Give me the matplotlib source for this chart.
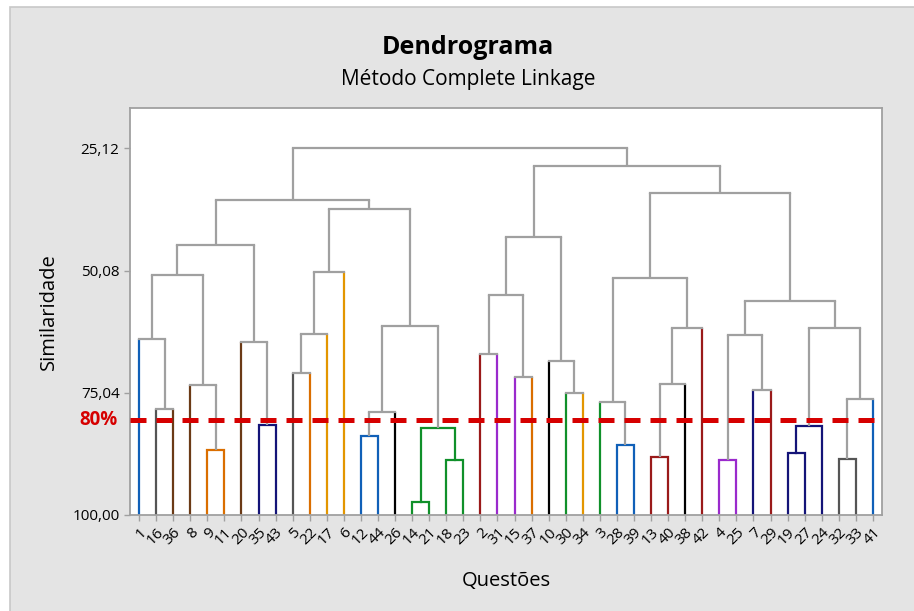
import matplotlib
matplotlib.use("Agg")
import matplotlib.pyplot as plt
from matplotlib.patches import Rectangle

plt.rcParams["font.family"] = ["Open Sans", "DejaVu Sans"]

# Leaf order along the x axis (question numbers)
leaves = [1, 16, 36, 8, 9, 11, 20, 35, 43, 5, 22, 17, 6, 12, 44, 26, 14, 21, 18, 23,
          2, 31, 15, 37, 10, 30, 34, 3, 28, 39, 13, 40, 38, 42, 4, 25, 7, 29, 19, 27,
          24, 32, 33, 41]

# Merges: (name, left child, right child, similarity). ints = leaves, str = earlier merges
merges = [
    ("m0", 16, 36, 78.4),
    ("m1", 1, "m0", 64.0),
    ("m2", 9, 11, 86.8),
    ("m3", 8, "m2", 73.4),
    ("m4", "m1", "m3", 50.9),
    ("m5", 35, 43, 81.6),
    ("m6", 20, "m5", 64.7),
    ("m7", "m4", "m6", 44.8),
    ("m8", 5, 22, 71.0),
    ("m9", "m8", 17, 63.0),
    ("m10", "m9", 6, 50.3),
    ("m11", 12, 44, 83.8),
    ("m12", "m11", 26, 78.9),
    ("m13", 14, 21, 97.3),
    ("m14", 18, 23, 88.8),
    ("m15", "m13", "m14", 82.2),
    ("m16", "m12", "m15", 61.3),
    ("m17", "m10", "m16", 37.4),
    ("m18", "m7", "m17", 35.7),
    ("m19", 2, 31, 67.2),
    ("m20", 15, 37, 71.9),
    ("m21", "m19", "m20", 55.1),
    ("m22", 30, 34, 75.1),
    ("m23", 10, "m22", 68.5),
    ("m24", "m21", "m23", 43.2),
    ("m25", 28, 39, 85.7),
    ("m26", 3, "m25", 76.9),
    ("m27", 13, 40, 88.1),
    ("m28", "m27", 38, 73.2),
    ("m29", "m28", 42, 61.8),
    ("m30", "m26", "m29", 51.6),
    ("m31", 4, 25, 88.8),
    ("m32", 7, 29, 74.5),
    ("m33", "m31", "m32", 63.3),
    ("m34", 19, 27, 87.4),
    ("m35", "m34", 24, 81.9),
    ("m36", 32, 33, 88.5),
    ("m37", "m36", 41, 76.3),
    ("m38", "m35", "m37", 61.8),
    ("m39", "m33", "m38", 56.2),
    ("m40", "m30", "m39", 34.3),
    ("m41", "m24", "m40", 28.7),
    ("m42", "m18", "m41", 25.12),
]

cut = 80
cut_line = 80.6
y_ticks = [25.12, 50.08, 75.04, 100.00]

# cluster colours (one per leaf, same order as leaves)
BLUE, DGRAY, BROWN, ORANGE, AMBER = "#1060B8", "#555555", "#6B3A16", "#DA6E00", "#E39600"
NAVY, GREEN, DRED, PURPLE, BLACK = "#141478", "#10902A", "#9A1A1A", "#9A2ACC", "#000000"
leaf_colors = [BLUE, DGRAY, BROWN, BROWN, ORANGE, ORANGE, BROWN, NAVY, NAVY, DGRAY,
               ORANGE, AMBER, AMBER, BLUE, BLUE, BLACK, GREEN, GREEN, GREEN, GREEN,
               DRED, PURPLE, PURPLE, ORANGE, BLACK, GREEN, AMBER, GREEN, BLUE, BLUE,
               DRED, DRED, BLACK, DRED, PURPLE, PURPLE, NAVY, DRED, NAVY, NAVY,
               NAVY, DGRAY, DGRAY, BLUE]
link_gray = "#A0A0A0"

W, H = 914, 611
fig = plt.figure(figsize=(W / 100, H / 100), dpi=100)
fig.patch.set_facecolor("white")
fig.patches.append(Rectangle((10 / W, -0.01), 1.0, 1 - 7 / H + 0.01, transform=fig.transFigure,
                             facecolor="#E4E4E4", edgecolor="#C8C8C8", lw=1.2, zorder=-10))

ax = fig.add_axes([130 / W, 1 - 515 / H, 752 / W, 407 / H])
ax.set_facecolor("white")

# nodes: x position, height, colour (None if node spans several clusters), is leaf
nodes = {}
for i, (q, c) in enumerate(zip(leaves, leaf_colors)):
    nodes[q] = (i, 100.0, c, True)

lw = 1.6
for name, a, b, sim in merges:
    xa, ha, ca, la = nodes[a]
    xb, hb, cb, lb = nodes[b]
    if sim >= cut:
        col = ca
        ax.plot([xa, xa, xb, xb], [ha, sim, sim, hb], color=col, lw=lw, solid_joinstyle="miter")
        nodes[name] = ((xa + xb) / 2, sim, col, False)
    else:
        va_col = ca if la else link_gray
        vb_col = cb if lb else link_gray
        ax.plot([xa, xa], [ha, sim], color=va_col, lw=lw, solid_capstyle="butt")
        ax.plot([xb, xb], [hb, sim], color=vb_col, lw=lw, solid_capstyle="butt")
        ax.plot([xa, xb], [sim, sim], color=link_gray, lw=lw, solid_capstyle="projecting")
        nodes[name] = ((xa + xb) / 2, sim, None, False)

# cut line at 80 % similarity
ax.axhline(cut_line, color="#D60000", lw=3.6, linestyle=(0, (3.2, 2.0)),
           dash_capstyle="butt", zorder=5)
ax.text(-0.017, cut_line, "80%", transform=ax.get_yaxis_transform(), color="#D60000",
        fontsize=13.5, fontweight="bold", ha="right", va="center")

ax.set_xlim(-0.53, 43.53)
ax.set_ylim(100, 16.87)
ax.set_yticks(y_ticks)
ax.set_yticklabels([f"{v:.2f}".replace(".", ",") for v in y_ticks], fontsize=11)
ax.set_xticks(range(len(leaves)))
ax.set_xticklabels([str(q) for q in leaves], rotation=45, ha="right",
                   rotation_mode="anchor", fontsize=11)
ax.tick_params(axis="both", colors="#A0A0A0", length=4, width=1, labelcolor="black")
ax.tick_params(axis="x", pad=3)
for s in ax.spines.values():
    s.set_color("#A0A0A0")
    s.set_linewidth(1.3)

ax.set_ylabel("Similaridade", fontsize=14.5, labelpad=10)
ax.set_xlabel("Questões", fontsize=14.5, labelpad=17)

cx = 468 / W
fig.text(cx, 1 - 47 / H, "Dendrograma", fontsize=18, fontweight="bold", ha="center", va="center")
fig.text(cx, 1 - 80 / H, "Método Complete Linkage", fontsize=15, ha="center", va="center")

fig.savefig("out.png", dpi=100)
